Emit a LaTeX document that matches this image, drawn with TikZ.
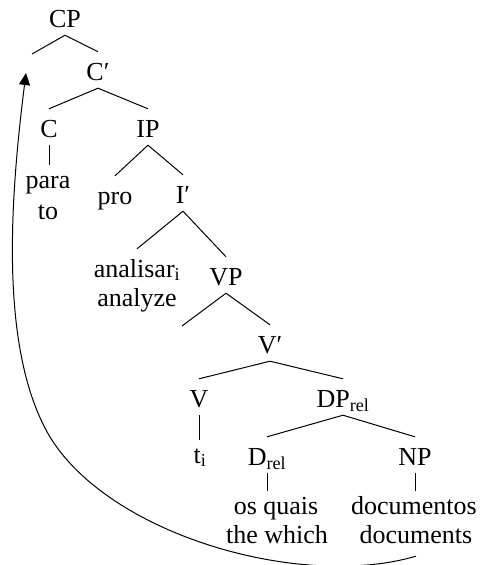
\documentclass[tikz,border=0pt]{standalone}
\usepackage{fontspec}
\setmainfont{Liberation Serif}
\usetikzlibrary{arrows.meta}

\newcommand{\treesize}{\fontsize{26}{29}\selectfont}

\tikzset{
  cat/.style={font=\treesize, anchor=base, inner xsep=0pt, inner ysep=4pt,
    text height=24pt, text depth=4pt},
  leaf/.style={cat, text height=19pt},
  branch/.style={line width=1pt},
  move/.style={line width=1pt, -{Triangle[length=12pt,width=11pt]}}
}

\begin{document}
\begin{tikzpicture}[x=1pt,y=-1pt]
\useasboundingbox (0,0) rectangle (485,565);

% categories, placed on their baselines
\node[cat] (cp) at (65,27) {CP};
\coordinate (spec) at (32,54);
\node[cat] (cbar) at (98,80) {C′};
\node[cat] (c) at (49,137) {C};
\node[cat] (ip) at (148,137) {IP};
\node[leaf] (para) at (48,188) {para};
\node[leaf] (to) at (48,219) {to};
\node[cat] (pro) at (115,204) {pro};
\node[cat] (ibar) at (183,203) {I′};
\node[cat] (an1) at (137,277) {analisar\textsubscript{i}};
\node[leaf] (an2) at (137,306) {analyze};
\node[cat] (vp) at (226,285) {VP};
\coordinate (vpspec) at (182,326);
\node[cat] (vbar) at (270,353) {V′};
\node[cat] (v) at (199,407) {V};
\node[cat] (dp) at (343,407) {DP\textsubscript{rel}};
\node[leaf] (ti) at (200,463) {t\textsubscript{i}};
\node[cat] (drel) at (267,465) {D\textsubscript{rel}};
\node[cat] (np) at (415,465) {NP};
\node[leaf] (oq) at (276,514) {os quais};
\node[leaf] (tw) at (277,543) {the which};
\node[leaf] (dc1) at (414,514) {documentos};
\node[leaf] (dc2) at (416,543) {documents};
\coordinate (land) at (26,73);

% branches
\draw[branch] (cp.south) -- (spec);
\draw[branch] (cp.south) -- (cbar.north);
\draw[branch] (cbar.south) -- (c.north);
\draw[branch] (cbar.south) -- (ip.north);
\draw[branch] (ip.south) -- (pro.north);
\draw[branch] (ip.south) -- (ibar.north);
\draw[branch] (ibar.south) -- (an1.north);
\draw[branch] (ibar.south) -- (vp.north);
\draw[branch] (vp.south) -- (vpspec);
\draw[branch] (vp.south) -- (vbar.north);
\draw[branch] (vbar.south) -- (v.north);
\draw[branch] (vbar.south) -- (dp.north);
\draw[branch] (dp.south) -- (drel.north);
\draw[branch] (dp.south) -- (np.north);

% unary branches drop straight down
\draw[branch] (c.south) -- (c.south |- para.north);
\draw[branch] (v.south) -- (v.south |- ti.north);
\draw[branch] (drel.south) -- (drel.south |- oq.north);
\draw[branch] (np.south) -- (np.south |- dc1.north);

% movement of the relative phrase
\draw[move] ([yshift=-5pt]dc2.south) .. controls (300,590) and (110,535) .. (50,437)
  .. controls (-1,351) and (10,200) .. (land);
\end{tikzpicture}
\end{document}
